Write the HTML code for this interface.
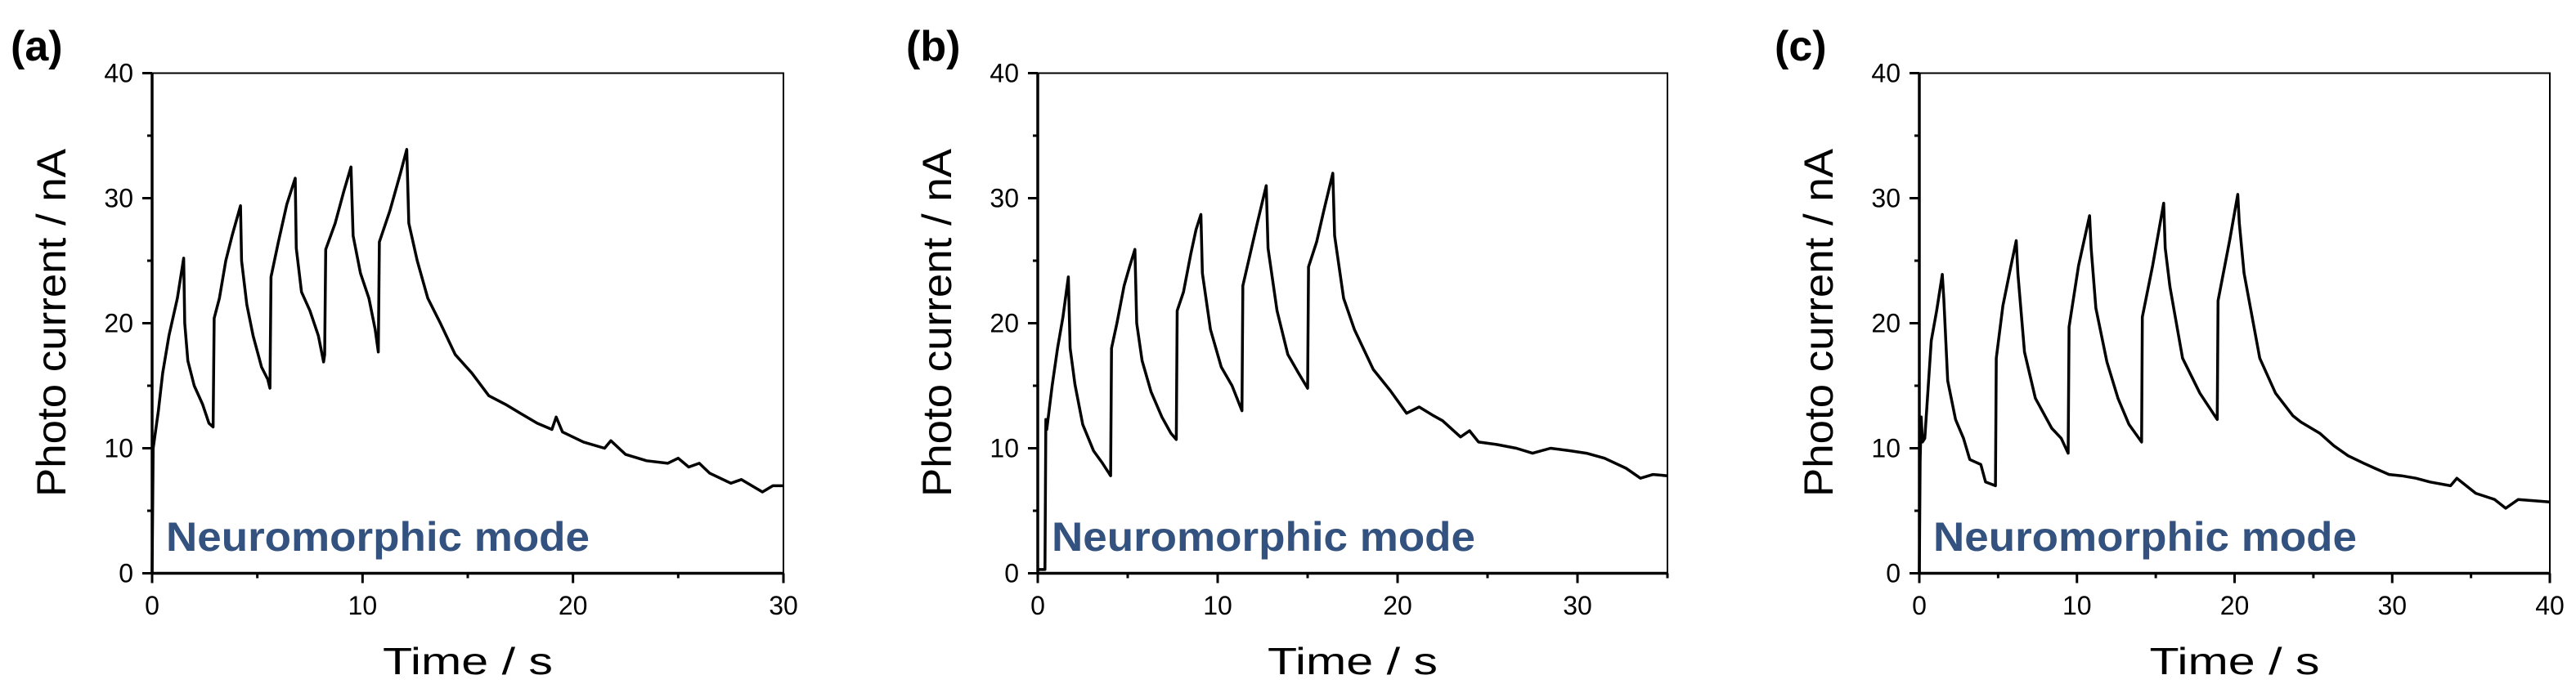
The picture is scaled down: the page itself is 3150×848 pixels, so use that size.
<!DOCTYPE html>
<html><head><meta charset="utf-8">
<style>
html,body{margin:0;padding:0;background:#fff;}
svg{display:block;font-family:"Liberation Sans",Arial,sans-serif;}
</style></head>
<body>
<svg id="fig" width="3150" height="848" viewBox="0 0 3150 848" xmlns="http://www.w3.org/2000/svg"></svg>
<script>
// ---- data (time in s, current in nA) ----
const timeA = [0,0.05,0.3,0.5,0.8,1.2,1.5,1.55,1.7,2.0,2.4,2.7,2.9,2.95,3.2,3.5,3.8,4.2,4.25,4.5,4.8,5.2,5.5,5.6,5.65,6.0,6.4,6.8,6.85,7.1,7.5,7.9,8.15,8.2,8.25,8.7,9.1,9.45,9.55,9.9,10.3,10.6,10.75,10.8,11.3,11.8,12.1,12.2,12.6,13.1,13.7,14.4,15.2,16.0,16.8,17.5,18.3,19.0,19.2,19.5,20.5,21.5,21.8,22.5,23.5,24.5,25.0,25.5,26.0,26.5,27.5,28.0,28.5,29.0,29.5,30];
const currA = [0,10,13,16,19,22,25.2,20,17,15,13.5,12,11.7,20.4,22,25,27,29.4,25,21.5,19,16.5,15.5,14.8,23.7,26.5,29.5,31.6,26,22.5,21,19,16.9,17.5,25.9,28,30.5,32.5,27,24,22,19.5,17.7,26.5,29,32,33.9,28,25,22,20,17.5,16,14.2,13.5,12.8,12,11.5,12.5,11.3,10.5,10,10.6,9.5,9,8.8,9.2,8.5,8.8,8,7.2,7.5,7,6.5,7,7];
const timeB = [0,0.4,0.45,0.5,0.8,1.1,1.4,1.7,1.8,2.07,2.5,3.1,3.6,4.05,4.1,4.4,4.8,5.1,5.4,5.5,5.8,6.3,6.9,7.4,7.7,7.75,8.1,8.5,8.8,9.07,9.15,9.6,10.2,10.8,11.35,11.4,11.8,12.2,12.7,12.8,13.3,13.9,14.5,15.0,15.05,15.5,15.9,16.4,16.5,17.0,17.6,18.65,19.6,20.5,21.2,22.0,22.5,23.5,24.0,24.5,25.5,26.6,27.5,28.5,29.6,30.5,31.5,32.7,33.5,34.2,35];
const currB = [0.3,0.3,12.3,11.5,15,18,20.5,23.7,18,15.1,11.9,9.8,8.8,7.8,18,20,23,24.5,25.9,20,17,14.5,12.5,11.2,10.7,21,22.5,25.5,27.5,28.7,24,19.5,16.5,15,13,23,25.5,28,31,26,21,17.5,16,14.8,24.5,26.5,29,32,27,22,19.5,16.3,14.6,12.8,13.3,12.6,12.2,10.9,11.4,10.5,10.3,10,9.6,10,9.8,9.6,9.2,8.4,7.6,7.9,7.8];
const timeC = [0,0.05,0.12,0.2,0.35,0.76,1.1,1.46,1.55,1.8,2.3,2.8,3.2,3.9,4.2,4.83,4.88,5.3,5.8,6.15,6.25,6.67,7.36,8.4,9.0,9.44,9.5,10.1,10.8,10.9,11.2,11.9,12.6,13.3,14.1,14.15,14.8,15.5,15.6,15.9,16.7,17.8,18.9,18.95,19.7,20.2,20.3,20.6,21.6,22.6,23.7,24.2,25.4,26.3,27.2,28.2,28.9,29.8,30.6,31.5,32.4,33.7,34.1,35.3,36.5,37.2,38.0,39.0,40];
const currC = [0,9,12.5,10.5,10.8,18.6,21,23.9,22,15.4,12.3,10.8,9.1,8.7,7.3,7.0,17.2,21.4,24.5,26.6,24,17.7,14.0,11.6,10.8,9.6,19.7,24.6,28.6,26,21.2,16.9,14,11.9,10.5,20.5,24.6,29.6,26,22.9,17.2,14.4,12.3,21.8,26.7,30.3,28,24,17.2,14.4,12.6,12.1,11.2,10.2,9.4,8.8,8.4,7.9,7.8,7.6,7.3,7.0,7.6,6.4,5.9,5.2,5.9,5.8,5.7];
const yTicks = [0,10,20,30,40];
const xTicksA = [0,10,20,30];
const xTicksB = [0,10,20,30];
const xTicksC = [0,10,20,30,40];

const NS = "http://www.w3.org/2000/svg";
const svg = document.getElementById('fig');
function mk(tag, attrs, parent){const e=document.createElementNS(NS,tag);for(const k in attrs)e.setAttribute(k,attrs[k]);(parent||svg).appendChild(e);return e;}

const panels = [
  {id:'a', left:186, right:958, xmax:30, t:timeA, c:currA, ticks:xTicksA, lx:13},
  {id:'b', left:1269, right:2039, xmax:35, t:timeB, c:currB, ticks:xTicksB, lx:1108},
  {id:'c', left:2347, right:3118, xmax:40, t:timeC, c:currC, ticks:xTicksC, lx:2170}
];
const TOP=89.5, BOT=701.5, YMAX=40;

panels.forEach(p=>{
  const g = mk('g',{});
  
  
  const xs = v => p.left + (v/p.xmax)*(p.right-p.left);
  const ys = v => BOT - (v/YMAX)*(BOT-TOP);

  const lab = mk('text',{x:p.lx,y:74,'font-size':52,'font-weight':'bold',fill:'#000'},g);
  lab.textContent='('+p.id+')';
  
  

  const fr = mk('rect',{x:p.left,y:TOP,width:p.right-p.left,height:BOT-TOP,fill:'none',stroke:'#000','stroke-width':2},g);
  
  
  const ya = mk('line',{x1:p.left,y1:TOP,x2:p.left,y2:BOT+1.5,stroke:'#000','stroke-width':3.5},g);
  
  
  const xa = mk('line',{x1:p.left-1.5,y1:BOT,x2:p.right,y2:BOT,stroke:'#000','stroke-width':3.5},g);
  
  

  yTicks.forEach(v=>{
    const y=ys(v);
    const tk = mk('line',{x1:p.left-12,y1:y,x2:p.left,y2:y,stroke:'#000','stroke-width':3},g);
    
    
    const tl = mk('text',{x:p.left-23,y:y+11,'font-size':32,'text-anchor':'end',fill:'#000'},g);
    tl.textContent=v;
    
    
    if(v<YMAX){
      const mt = mk('line',{x1:p.left-6,y1:ys(v+5),x2:p.left,y2:ys(v+5),stroke:'#000','stroke-width':3},g);
      
      
    }
  });
  for(let v=0; v<=p.xmax; v+=5){
    const major = v%10===0;
    const mt = mk('line',{x1:xs(v),y1:BOT,x2:xs(v),y2:BOT+(major?12:6),stroke:'#000','stroke-width':3},g);
    
    
  }
  p.ticks.forEach(v=>{
    const tl = mk('text',{x:xs(v),y:752,'font-size':32,'text-anchor':'middle',fill:'#000'},g);
    tl.textContent=v;
    
    
  });

  const cx = p.left-122;
  const yt = mk('text',{x:0,y:0,'font-size':50,'text-anchor':'middle',fill:'#000',transform:'translate('+(cx+16)+',395) rotate(-90)',textLength:426,lengthAdjust:'spacingAndGlyphs'},g);
  yt.textContent='Photo current / nA';
  
  
  const xt = mk('text',{x:(p.left+p.right)/2,y:825,'font-size':46,'text-anchor':'middle',fill:'#000',textLength:208,lengthAdjust:'spacingAndGlyphs'},g);
  xt.textContent='Time / s';
  
  

  const d = p.t.map((t,i)=>(i?'L':'M')+xs(t).toFixed(1)+','+ys(p.c[i]).toFixed(1)).join('');
  const ln = mk('path',{d:d,fill:'none',stroke:'#000','stroke-width':3.5,'stroke-linejoin':'round'},g);
  
  

  const nm = mk('text',{x:p.left+17,y:674,'font-size':50,'font-weight':'bold',fill:'#34527f',textLength:518,lengthAdjust:'spacingAndGlyphs'},g);
  nm.textContent='Neuromorphic mode';
  
  
});
</script>
</body></html>
